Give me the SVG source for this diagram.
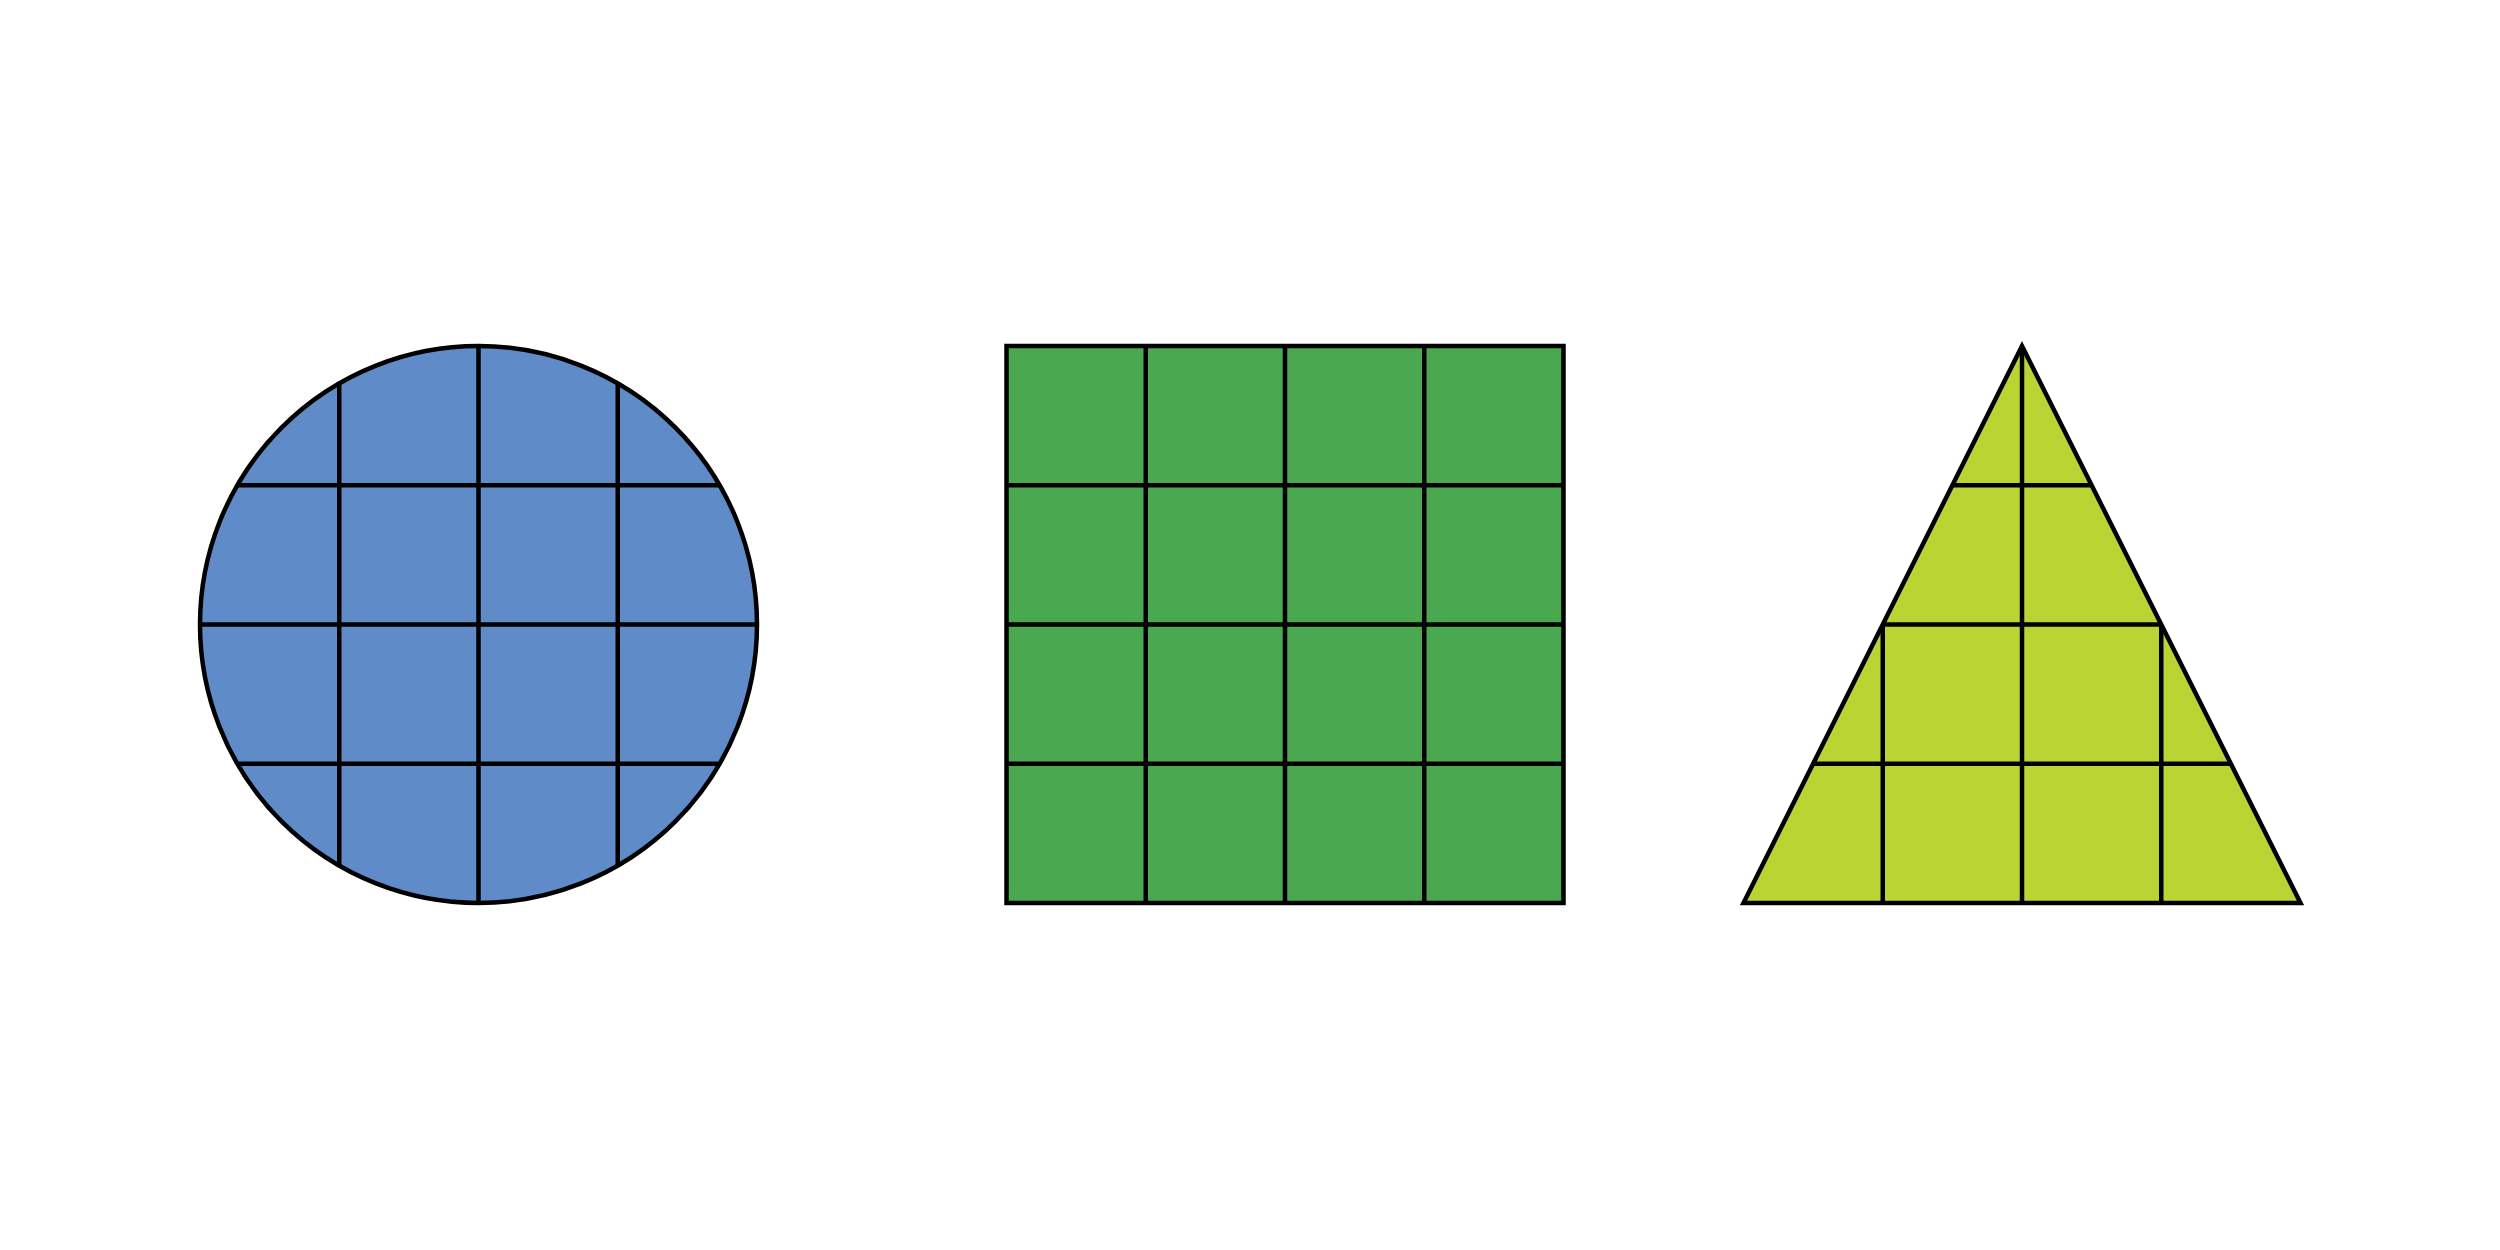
<svg xmlns="http://www.w3.org/2000/svg" width="2500" height="1250" viewBox="0 0 2500 1250">
<style>
.ln{stroke:#000;stroke-width:4.5;fill:none}
.ol{stroke:#000;stroke-width:4.5}
</style>
<defs>
<clipPath id="cc"><circle cx="478.5" cy="624.5" r="278.5"/></clipPath>
<clipPath id="tc"><polygon points="2022,346 2300.5,903 1743.5,903"/></clipPath>
</defs>
<rect width="2500" height="1250" fill="#fff"/>
<g id="circle">
<circle cx="478.5" cy="624.5" r="278.5" fill="#5F8BC8"/>
<g clip-path="url(#cc)" class="ln">
<line x1="339.25" y1="300" x2="339.25" y2="950"/>
<line x1="478.5" y1="300" x2="478.5" y2="950"/>
<line x1="617.75" y1="300" x2="617.75" y2="950"/>
<line x1="150" y1="485.25" x2="800" y2="485.25"/>
<line x1="150" y1="624.5" x2="800" y2="624.5"/>
<line x1="150" y1="763.75" x2="800" y2="763.75"/>
</g>
<circle cx="478.5" cy="624.5" r="278.5" class="ln"/>
</g>
<g id="square">
<rect x="1006.5" y="346" width="557" height="557" fill="#4AA851"/>
<g class="ln">
<line x1="1145.75" y1="346" x2="1145.75" y2="903"/>
<line x1="1285" y1="346" x2="1285" y2="903"/>
<line x1="1424.25" y1="346" x2="1424.25" y2="903"/>
<line x1="1006.5" y1="485.25" x2="1563.5" y2="485.25"/>
<line x1="1006.5" y1="624.5" x2="1563.5" y2="624.5"/>
<line x1="1006.5" y1="763.75" x2="1563.5" y2="763.75"/>
</g>
<rect x="1006.5" y="346" width="557" height="557" class="ln"/>
</g>
<g id="triangle">
<polygon points="2022,346 2300.5,903 1743.5,903" fill="#B9D433"/>
<g clip-path="url(#tc)" class="ln">
<line x1="2022" y1="340" x2="2022" y2="903"/>
<line x1="1882.75" y1="624.5" x2="1882.75" y2="903"/>
<line x1="2161.25" y1="624.5" x2="2161.25" y2="903"/>
<line x1="1900" y1="485.25" x2="2150" y2="485.25"/>
<line x1="1800" y1="624.5" x2="2250" y2="624.5"/>
<line x1="1750" y1="763.75" x2="2300" y2="763.75"/>
</g>
<polygon points="2022,346 2300.5,903 1743.5,903" class="ln" stroke-miterlimit="10"/>
</g>
</svg>
